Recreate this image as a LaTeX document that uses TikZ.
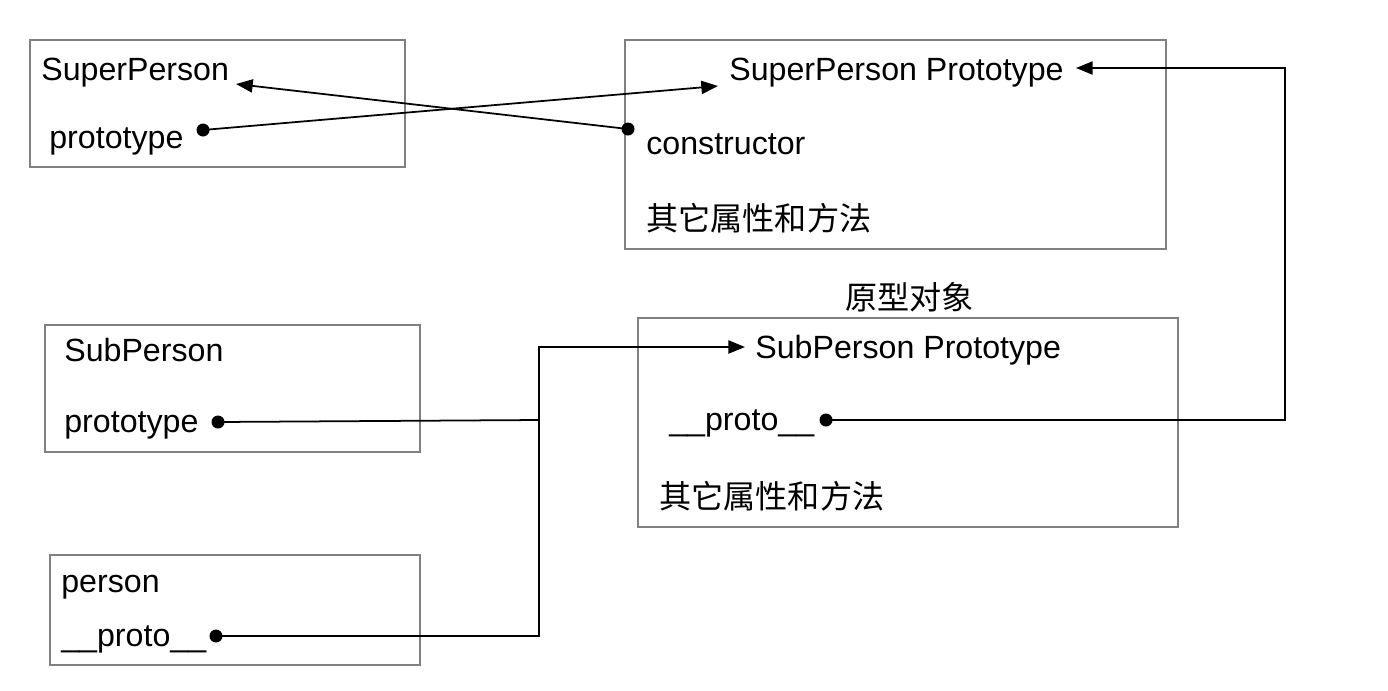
\documentclass[tikz,border=0pt]{standalone}
\usepackage{fontspec}
\setmainfont{Liberation Sans}
\newfontfamily\cjk{Noto Sans CJK SC}
\usetikzlibrary{arrows.meta, positioning}
\definecolor{boxgray}{RGB}{128, 128, 128}

\tikzset{
    objbox/.style={draw=boxgray, line width=0.9pt},
    field/.style={anchor=west, inner sep=0pt, font=\fontsize{18.3}{22}\selectfont},
    dot/.style={circle, fill=black, inner sep=0pt, minimum size=7.4pt},
    link/.style={line width=1pt, -{Triangle[length=9.5pt, width=7.5pt]}},
    wire/.style={line width=1pt}
}

\begin{document}
\begin{tikzpicture}[x=0.02cm, y=-0.02cm]
\useasboundingbox (0,0) rectangle (1388,690);

% SuperPerson constructor
\draw[objbox] (30,40) rectangle (405,167);
\node[field] (superName) at (41,73) {SuperPerson};
\node[field] (superProto) at (49,141) {prototype};
\node[dot] (superProtoDot) at (203,130) {};

% SuperPerson prototype object
\draw[objbox] (625,40) rectangle (1166,249);
\node[field] (superPtName) at (729,73) {SuperPerson Prototype};
\node[field] (superCtor) at (646,144) {constructor};
\node[field] (superRest) at (646,218) {\cjk 其它属性和方法};
\node[dot] (superCtorDot) at (628,129) {};

% SubPerson constructor
\draw[objbox] (45,325) rectangle (420,452);
\node[field] (subName) at (64,350) {SubPerson};
\node[field] (subProto) at (64,425) {prototype};
\node[dot] (subProtoDot) at (218,422) {};

% SubPerson prototype object
\node[field] (ptLabel) at (845,297) {\cjk 原型对象};
\draw[objbox] (638,318) rectangle (1178,527);
\node[field] (subPtName) at (755,350) {SubPerson Prototype};
\node[field] (subPtProto) at (669,423) {\_\_proto\_\_};
\node[field] (subRest) at (659,496) {\cjk 其它属性和方法};
\node[dot] (subPtProtoDot) at (826,420) {};

% instance
\draw[objbox] (50,555) rectangle (420,665);
\node[field] (instName) at (61,587) {person};
\node[field] (instProto) at (61,639) {\_\_proto\_\_};
\node[dot] (instProtoDot) at (216,636) {};

% arrow targets and bends
\coordinate (superIn) at (236,84);
\coordinate (superPtIn) at (718,86);
\coordinate (superPtSide) at (1076,68);
\coordinate (subPtIn) at (745,347);
\coordinate (joinX) at (539,420);

% links
\draw[link] (superProtoDot.center) -- (superPtIn);
\draw[link] (superCtorDot.center) -- (superIn);
\draw[link] (subPtProtoDot.center) -- (1285,420) |- (superPtSide);
\draw[link] (instProtoDot.center) -- (539,636) |- (subPtIn);
\draw[wire] (subProtoDot.center) -- (joinX);

\end{tikzpicture}
\end{document}
